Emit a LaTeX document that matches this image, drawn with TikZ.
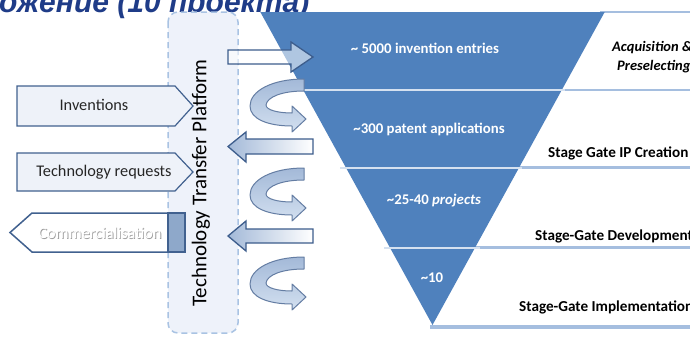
\documentclass[tikz,border=0pt]{standalone}
\usepackage{fontspec}
\setmainfont{Carlito}
\newfontfamily\titlefont{Liberation Sans}
\definecolor{funnelblue}{HTML}{4F81BD}
\definecolor{titleblue}{HTML}{1F3C88}
\definecolor{bandline}{HTML}{A5BEDF}
\definecolor{gapline}{HTML}{D5E1F0}
\definecolor{boxfill}{HTML}{EEF2F9}
\definecolor{boxdraw}{HTML}{41618F}
\definecolor{platfill}{HTML}{EEF2FA}
\definecolor{platdraw}{HTML}{A9C3E3}
\definecolor{arrowdraw}{HTML}{3D5D8C}
\definecolor{blueblock}{HTML}{8EA8CA}
\definecolor{ribbontop}{HTML}{A3B9D8}
\definecolor{ribbonbot}{HTML}{D3E0F0}
\begin{document}
\begin{tikzpicture}[x=1pt,y=-1pt,
  leftbox/.style={fill=boxfill,draw=boxdraw,line width=1.2pt,line join=miter},
  blockarrow/.style={draw=arrowdraw,line width=1.3pt,line join=miter},
  ribbon/.style={draw=arrowdraw!80,line width=1pt,top color=ribbontop,bottom color=ribbonbot,line join=round},
  sep/.style={draw=gapline,line width=2pt},
  rline/.style={draw=bandline,line width=2.5pt},
  lbl/.style={inner sep=0pt,font=\fontsize{16.3}{18}\selectfont,text=black!85},
  flbl/.style={inner sep=0pt,font=\bfseries\fontsize{14.8}{16}\selectfont,text=white},
  slbl/.style={inner sep=0pt,anchor=west,font=\bfseries\fontsize{15.2}{17}\selectfont,text=black},
  uturn/.pic={
    \path[ribbon] (304,0) -- (304,12) .. controls (282,12) and (267,18) .. (266,26)
      .. controls (266,31) and (278,34) .. (292,34) -- (292,27) -- (306,40) -- (292,53) -- (292,47)
      .. controls (268,47) and (250,40) .. (250,27) .. controls (250,12) and (272,0) .. (304,0) -- cycle;
  }]
\useasboundingbox (0,0) rectangle (690,338);
\clip (0,0) rectangle (690,338);
\fill[white] (0,0) rectangle (690,338);

% title (cut off at the top)
\node[anchor=base west,inner sep=0pt,text=titleblue,font=\titlefont\bfseries\itshape\fontsize{30}{32}\selectfont] (title) at (-1,12) {ожение (10 проекта)};

% right band lines
\draw[rline] (600,12) -- (690,12);
\draw[rline] (556,90) -- (690,90);
\draw[rline] (515,167.5) -- (690,167.5);
\draw[rline] (472,247.5) -- (690,247.5);
\draw[rline,line width=3.5pt] (430,327) -- (690,327);

% funnel
\fill[funnelblue] (260.3,12) coordinate (ftl) -- (604.7,12) coordinate (ftr) -- (432.5,325) coordinate (ftip) -- cycle;
\draw[sep] (300,90) -- (565,90);
\draw[sep] (340,167.5) -- (522,167.5);
\draw[sep] (384,247.5) -- (480,247.5);

% funnel labels
\node[flbl] (n5000) at (425,48) {\textasciitilde{} 5000 invention entries};
\node[flbl] (n300) at (429,129) {\textasciitilde300 patent applications};
\node[flbl] (n25) at (434,201) {\textasciitilde25-40 \textit{projects}};
\node[flbl] (n10) at (432,278) {\textasciitilde10};

% stage labels
\node[slbl,font=\bfseries\itshape\fontsize{14.5}{16}\selectfont] (acq) at (612,48) {Acquisition \&};
\node[slbl,font=\bfseries\itshape\fontsize{14.5}{16}\selectfont] (pre) at (617,67) {Preselecting};
\node[slbl] (ipc) at (548,153) {Stage Gate IP Creation};
\node[slbl] (dev) at (535,236) {Stage-Gate Development};
\node[slbl] (imp) at (519,307) {Stage-Gate Implementation};

% platform
\draw[fill=platfill,draw=platdraw,line width=1.5pt,dash pattern=on 6pt off 4pt,rounded corners=10pt] (168,12) rectangle (238,333);
\node[rotate=90,inner sep=0pt,font=\fontsize{21}{23}\selectfont,text=black] (platform) at (201,183) {Technology Transfer Platform};

% left boxes
\draw[leftbox] (17,86) -- (175,86) -- (193,106) -- (175,126) -- (17,126) -- cycle;
\node[lbl] (inv) at (94,105) {Inventions};
\draw[leftbox] (17,153) -- (175,153) -- (193,172) -- (175,191) -- (17,191) -- cycle;
\node[lbl] (treq) at (104,172) {Technology requests};
\draw[fill=white,draw=boxdraw,line width=1.5pt,line join=miter] (185,213) -- (32,213) -- (10,232.5) -- (32,252) -- (185,252) -- cycle;
\draw[fill=blueblock,draw=boxdraw,line width=1.2pt] (168,213) rectangle (185,252);
\node[lbl,text=gray!75] (comS) at (100.8,233.8) {Commercialisation};
\node[lbl,text=white] (com) at (100,233) {Commercialisation};

% straight block arrows
\draw[blockarrow,fill=white,fill opacity=0.55] (228,50) -- (291,50) -- (291,42) -- (313,57) -- (291,72) -- (291,64) -- (228,64) -- cycle;
\draw[blockarrow,left color=ribbontop,right color=white] (313,139) -- (246,139) -- (246,132) -- (228,146.5) -- (246,162) -- (246,154) -- (313,154) -- cycle;
\draw[blockarrow,left color=ribbontop,right color=white] (313,229) -- (246,229) -- (246,221) -- (228,236) -- (246,251) -- (246,243) -- (313,243) -- cycle;

% u-turn arrows
\pic (u1) at (0,79) {uturn};
\pic (u2) at (0,168) {uturn};
\pic (u3) at (0,257) {uturn};
\end{tikzpicture}
\end{document}
